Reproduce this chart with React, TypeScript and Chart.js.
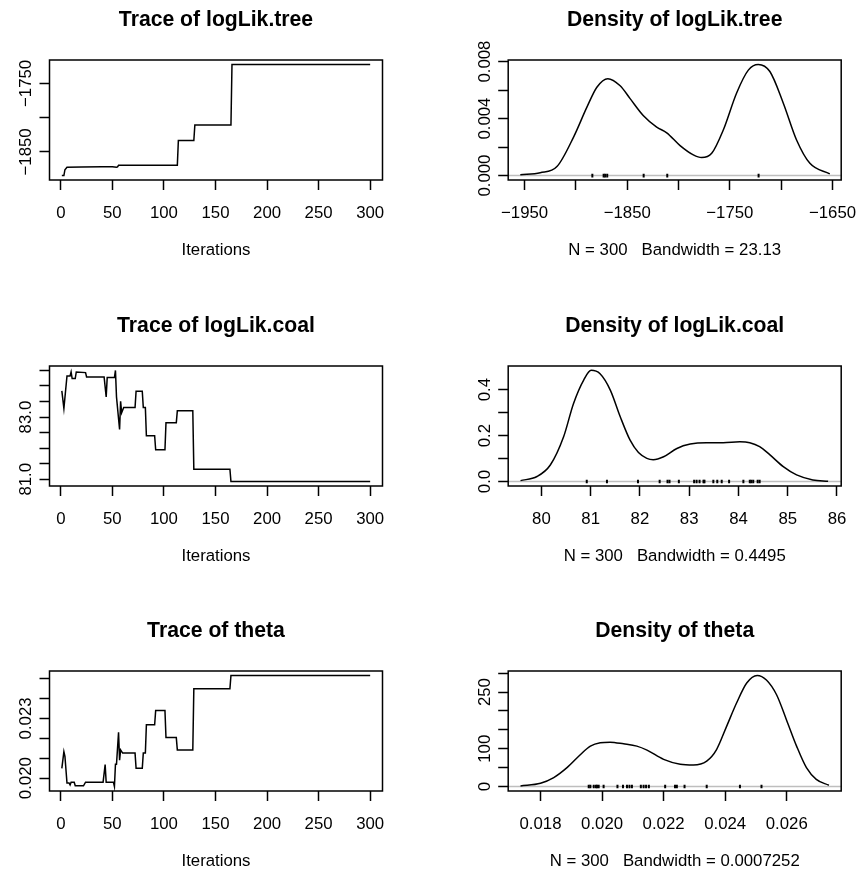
import { useEffect, useRef } from 'react';
import { Chart, registerables } from 'chart.js';

Chart.register(...registerables);

const FONT = "'Liberation Sans', Arial, Helvetica, sans-serif";

// ---------- Trace of logLik.tree ----------
const treeIter = [1, 3, 4, 6, 20, 40, 50, 54, 55, 56, 113, 114, 129, 130, 165, 166, 300];
const treeVal = [-1884.5, -1884.5, -1876, -1872.3, -1872, -1871.6, -1871.5, -1872.5, -1871.8, -1869.6, -1869.6, -1833.5, -1833.5, -1810.6, -1810.6, -1722.3, -1722.3];

// ---------- Trace of logLik.coal ----------
const coalIter = [1, 3, 6, 9, 10, 11, 14, 15, 24, 25, 42, 44, 45, 52, 53, 54, 57, 58, 59, 61, 72, 73, 79, 80, 82, 83, 91, 92, 101, 102, 112, 113, 128, 129, 164, 165, 300];
const coalVal = [83.845, 83.28, 84.32, 84.32, 84.45, 84.24, 84.24, 84.45, 84.43, 84.29, 84.29, 83.65, 84.27, 84.27, 84.5, 83.65, 82.6, 83.51, 83.14, 83.31, 83.31, 83.83, 83.83, 83.31, 83.31, 82.4, 82.4, 81.95, 81.95, 82.82, 82.82, 83.2, 83.2, 81.32, 81.32, 80.925, 80.925];

// ---------- Trace of theta ----------
const thetaIter = [1, 3, 4, 6, 8, 9, 10, 13, 14, 22, 24, 41, 43, 44, 51, 52, 53, 54, 56, 57, 58, 60, 72, 73, 79, 80, 82, 83, 91, 92, 101, 102, 112, 113, 128, 129, 164, 165, 300];
const thetaVal = [0.02049, 0.02133, 0.0211, 0.01976, 0.01976, 0.01966, 0.0198, 0.0198, 0.01962, 0.01962, 0.0198, 0.0198, 0.02068, 0.0198, 0.0198, 0.01958, 0.0207, 0.0207, 0.0223, 0.0209, 0.02142, 0.02126, 0.02126, 0.0205, 0.0205, 0.02126, 0.02126, 0.02268, 0.02268, 0.0234, 0.0234, 0.02204, 0.02204, 0.02142, 0.02142, 0.02449, 0.02449, 0.02516, 0.02516];

// ---------- Density of logLik.tree ----------
const treeDensX = [-1954.2, -1934.8, -1918.5, -1902.3, -1889.3, -1879.6, -1868.9, -1856.9, -1847.2, -1834.2, -1821.3, -1811.5, -1798.5, -1785.6, -1777.5, -1767.7, -1756.4, -1743.4, -1732.0, -1722.3, -1711.0, -1698.0, -1685.0, -1672.0, -1652.6];
const treeDensY = [0.00005, 0.0002, 0.00063, 0.0027, 0.0048, 0.0062, 0.0068, 0.0063, 0.0054, 0.0042, 0.0034, 0.003, 0.0021, 0.00145, 0.00126, 0.00156, 0.0032, 0.0058, 0.0074, 0.0078, 0.0073, 0.0051, 0.0025, 0.00086, 0.00012];
const treeRug = [-1884, -1873, -1871.5, -1869.5, -1834, -1811, -1722];

// ---------- Density of logLik.coal ----------
const coalDensX = [79.575, 79.91, 80.18, 80.45, 80.65, 80.86, 81.01, 81.19, 81.4, 81.6, 81.8, 81.97, 82.14, 82.27, 82.48, 82.75, 83.02, 83.35, 83.69, 84.03, 84.23, 84.43, 84.64, 84.91, 85.18, 85.51, 85.82];
const coalDensY = [0.004, 0.022, 0.072, 0.195, 0.339, 0.443, 0.484, 0.469, 0.397, 0.282, 0.18, 0.126, 0.101, 0.095, 0.108, 0.144, 0.163, 0.169, 0.169, 0.173, 0.169, 0.152, 0.116, 0.065, 0.029, 0.0072, 0.0014];
const coalRug = [80.92, 81.33, 81.96, 82.4, 82.56, 82.6, 82.79, 83.1, 83.15, 83.21, 83.29, 83.31, 83.49, 83.57, 83.66, 83.81, 84.1, 84.23, 84.26, 84.3, 84.39, 84.43];

// ---------- Density of theta ----------
const thetaDensX = [0.01735, 0.018, 0.01843, 0.01886, 0.0193, 0.01962, 0.01994, 0.02026, 0.0207, 0.02113, 0.02146, 0.022, 0.02254, 0.02297, 0.0234, 0.02372, 0.02405, 0.02437, 0.0247, 0.02504, 0.02534, 0.02567, 0.02599, 0.02632, 0.02664, 0.02696, 0.02737];
const thetaDensY = [1.75, 8.8, 23.7, 50, 85, 107, 116, 117.5, 113, 107, 96.5, 72, 59, 57, 67.5, 98, 160, 221, 274, 294, 282, 243, 177, 107, 50, 19, 3.5];
const thetaRug = [0.019566, 0.01962, 0.01973, 0.0198, 0.01984, 0.01989, 0.02005, 0.0205, 0.02068, 0.02081, 0.02089, 0.02097, 0.02126, 0.02135, 0.02143, 0.02152, 0.02205, 0.02237, 0.02243, 0.02268, 0.0234, 0.02448, 0.02518];

// ---------- Tick values and labels ----------
const iterTicks = [0, 50, 100, 150, 200, 250, 300];
const iterLabels = ['0', '50', '100', '150', '200', '250', '300'];
const treeYTicks = [-1850, -1800, -1750];
const treeYLabels = ['\u22121850', '', '\u22121750'];
const coalYTicks = [81.0, 81.5, 82.0, 82.5, 83.0, 83.5, 84.0, 84.5];
const coalYLabels = ['81.0', '', '', '', '83.0', '', '', ''];
const thetaYTicks = [0.02, 0.021, 0.022, 0.023, 0.024, 0.025];
const thetaYLabels = ['0.020', '', '', '0.023', '', ''];

const treeDXTicks = [-1950, -1900, -1850, -1800, -1750, -1700, -1650];
const treeDXLabels = ['\u22121950', '', '\u22121850', '', '\u22121750', '', '\u22121650'];
const treeDYTicks = [0, 0.002, 0.004, 0.006, 0.008];
const treeDYLabels = ['0.000', '', '0.004', '', '0.008'];
const coalDXTicks = [80, 81, 82, 83, 84, 85, 86];
const coalDXLabels = ['80', '81', '82', '83', '84', '85', '86'];
const coalDYTicks = [0, 0.1, 0.2, 0.3, 0.4];
const coalDYLabels = ['0.0', '', '0.2', '', '0.4'];
const thetaDXTicks = [0.018, 0.02, 0.022, 0.024, 0.026];
const thetaDXLabels = ['0.018', '0.020', '0.022', '0.024', '0.026'];
const thetaDYTicks = [0, 50, 100, 150, 200, 250, 300];
const thetaDYLabels = ['0', '', '100', '', '', '250', ''];

type Spec = {
  title: string;
  xTitle: string;
  xRange: [number, number];
  yRange: [number, number];
  xTicks: number[];
  xLabels: string[];
  yTicks: number[];
  yLabels: string[];
  xs: number[];
  ys: number[];
  smooth: boolean;
  rug?: number[];
  col: number;
  row: number;
};

const specs: Spec[] = [
  { title: 'Trace of logLik.tree', xTitle: 'Iterations', xRange: [-10.96, 311.96], yRange: [-1891, -1715.8], xTicks: iterTicks, xLabels: iterLabels, yTicks: treeYTicks, yLabels: treeYLabels, xs: treeIter, ys: treeVal, smooth: false, col: 0, row: 0 },
  { title: 'Density of logLik.tree', xTitle: 'N = 300   Bandwidth = 23.13', xRange: [-1966, -1641.5], yRange: [-0.00031, 0.00811], xTicks: treeDXTicks, xLabels: treeDXLabels, yTicks: treeDYTicks, yLabels: treeDYLabels, xs: treeDensX, ys: treeDensY, smooth: true, rug: treeRug, col: 1, row: 0 },
  { title: 'Trace of logLik.coal', xTitle: 'Iterations', xRange: [-10.96, 311.96], yRange: [80.782, 84.643], xTicks: iterTicks, xLabels: iterLabels, yTicks: coalYTicks, yLabels: coalYLabels, xs: coalIter, ys: coalVal, smooth: false, col: 0, row: 1 },
  { title: 'Density of logLik.coal', xTitle: 'N = 300   Bandwidth = 0.4495', xRange: [79.325, 86.086], yRange: [-0.0194, 0.503], xTicks: coalDXTicks, xLabels: coalDXLabels, yTicks: coalDYTicks, yLabels: coalDYLabels, xs: coalDensX, ys: coalDensY, smooth: true, rug: coalRug, col: 1, row: 1 },
  { title: 'Trace of theta', xTitle: 'Iterations', xRange: [-10.96, 311.96], yRange: [0.019357, 0.025383], xTicks: iterTicks, xLabels: iterLabels, yTicks: thetaYTicks, yLabels: thetaYLabels, xs: thetaIter, ys: thetaVal, smooth: false, col: 0, row: 2 },
  { title: 'Density of theta', xTitle: 'N = 300   Bandwidth = 0.0007252', xRange: [0.01695, 0.02777], yRange: [-11.76, 305.76], xTicks: thetaDXTicks, xLabels: thetaDXLabels, yTicks: thetaDYTicks, yLabels: thetaDYLabels, xs: thetaDensX, ys: thetaDensY, smooth: true, rug: thetaRug, col: 1, row: 2 },
];

const PANEL_W = 429;
const PANEL_H = 262;
const ROW_TOP = [0, 306, 611];
const COL_LEFT = [0, 429];
const BOX_LEFT = [49.5, 79.2];
const BOX_RIGHT_PAD = [46.5, 16.8];
const TICK_LEN = 10;
const LABEL_SIZE = 16.8;
const TITLE_SIZE = 21.2;
const Y_LABEL_OFFSET = 23;

function Panel({ spec }: { spec: Spec }) {
  const ref = useRef<HTMLCanvasElement | null>(null);

  useEffect(() => {
    const canvas = ref.current;
    if (!canvas) return;
    const mctx = document.createElement('canvas').getContext('2d')!;
    mctx.font = `normal ${LABEL_SIZE}px ${FONT}`;
    const widest = Math.max(...spec.yLabels.map((l) => (l ? mctx.measureText(l).width : 0)));
    const yPad = Y_LABEL_OFFSET - TICK_LEN - widest / 2;

    const boxPlugin = {
      id: 'rbox',
      beforeDatasetsDraw(chart: any) {
        if (!spec.rug) return;
        const { ctx, chartArea } = chart;
        const y = chart.scales.y.getPixelForValue(0);
        ctx.save();
        ctx.strokeStyle = '#bebebe';
        ctx.lineWidth = 1.5;
        ctx.beginPath();
        ctx.moveTo(chartArea.left, y);
        ctx.lineTo(chartArea.right, y);
        ctx.stroke();
        ctx.restore();
      },
      afterDraw(chart: any) {
        const { ctx, chartArea } = chart;
        ctx.save();
        ctx.strokeStyle = '#000';
        ctx.lineWidth = 1.5;
        ctx.strokeRect(chartArea.left, chartArea.top, chartArea.right - chartArea.left, chartArea.bottom - chartArea.top);
        ctx.restore();
      },
    };

    const datasets: any[] = [
      {
        data: spec.xs.map((x, i) => ({ x, y: spec.ys[i] })),
        borderColor: '#000',
        borderWidth: 1.5,
        pointRadius: 0,
        fill: false,
        tension: 0,
        cubicInterpolationMode: spec.smooth ? 'monotone' : 'default',
      },
    ];
    if (spec.rug) {
      datasets.push({
        data: spec.rug.map((x) => ({ x, y: 0 })),
        showLine: false,
        pointStyle: 'line',
        pointRotation: 90,
        pointRadius: 1.8,
        pointBorderWidth: 2,
        pointBorderColor: '#000',
        borderColor: '#000',
      });
    }

    const grid = {
      display: true,
      drawOnChartArea: false,
      drawTicks: true,
      tickLength: TICK_LEN,
      tickWidth: 1.5,
      tickColor: '#000',
    };
    const tickFont = { size: LABEL_SIZE, family: FONT };

    const chart = new Chart(canvas, {
      type: 'line',
      data: { datasets },
      plugins: [boxPlugin],
      options: {
        animation: false,
        responsive: false,
        devicePixelRatio: 1,
        events: [],
        layout: { padding: { left: 0, top: 0, right: BOX_RIGHT_PAD[spec.col], bottom: 0 } },
        plugins: {
          legend: { display: false },
          tooltip: { enabled: false },
          title: {
            display: true,
            fullSize: false,
            text: spec.title,
            color: '#000',
            font: { size: TITLE_SIZE, weight: 'bold', family: FONT, lineHeight: 1.2 },
            padding: { top: 7.8, bottom: 60 - 7.8 - TITLE_SIZE * 1.2 },
          },
        },
        scales: {
          x: {
            type: 'linear',
            bounds: 'data',
            min: spec.xRange[0],
            max: spec.xRange[1],
            afterBuildTicks: (s: any) => {
              s.ticks = spec.xTicks.map((v) => ({ value: v }));
            },
            afterFit: (s: any) => {
              s.height = PANEL_H - 180;
              s.paddingLeft = 0;
              s.paddingRight = 0;
              s.paddingTop = 0;
              s.paddingBottom = 0;
            },
            grid,
            border: { display: false },
            ticks: {
              autoSkip: false,
              maxRotation: 0,
              minRotation: 0,
              padding: 13,
              color: '#000',
              font: tickFont,
              callback: (_v: any, i: number) => spec.xLabels[i],
            },
            title: {
              display: true,
              text: spec.xTitle,
              color: '#000',
              font: { size: LABEL_SIZE, family: FONT, lineHeight: 1.2 },
              padding: { top: 0, bottom: 1.4 },
            },
          },
          y: {
            type: 'linear',
            bounds: 'data',
            min: spec.yRange[0],
            max: spec.yRange[1],
            afterBuildTicks: (s: any) => {
              s.ticks = spec.yTicks.map((v) => ({ value: v }));
            },
            afterFit: (s: any) => {
              s.width = BOX_LEFT[spec.col];
              s.paddingLeft = 0;
              s.paddingRight = 0;
              s.paddingTop = 0;
              s.paddingBottom = 0;
            },
            grid,
            border: { display: false },
            ticks: {
              autoSkip: false,
              minRotation: 90,
              maxRotation: 90,
              crossAlign: 'center',
              padding: yPad,
              color: '#000',
              font: tickFont,
              callback: (_v: any, i: number) => spec.yLabels[i],
            },
          },
        },
      } as any,
    });
    return () => chart.destroy();
  }, [spec]);

  return (
    <canvas
      ref={ref}
      width={PANEL_W}
      height={PANEL_H}
      style={{
        position: 'absolute',
        left: COL_LEFT[spec.col],
        top: ROW_TOP[spec.row],
        width: PANEL_W,
        height: PANEL_H,
      }}
    />
  );
}

export default function App() {
  return (
    <div style={{ position: 'absolute', left: 0, top: 0, width: 858, height: 873, background: '#fff' }}>
      {specs.map((s, i) => (
        <Panel key={i} spec={s} />
      ))}
    </div>
  );
}
